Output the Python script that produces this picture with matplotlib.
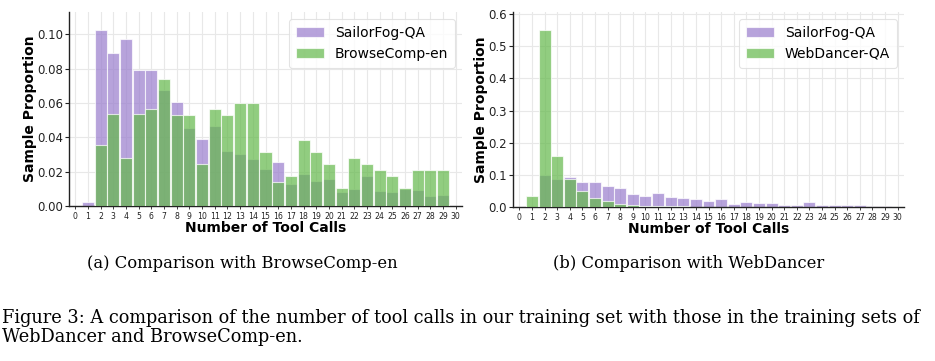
import numpy as np
import matplotlib
matplotlib.use("Agg")
import matplotlib.pyplot as plt

tool_calls = list(range(0, 31))

# Panel (a)
sailorfog_a = [0.0, 0.0023, 0.1027, 0.0890, 0.0975, 0.0795, 0.0791, 0.0678, 0.0603, 0.0453,
               0.0388, 0.0467, 0.0322, 0.0300, 0.0271, 0.0217, 0.0258, 0.0130, 0.0188, 0.0145,
               0.0155, 0.0083, 0.0097, 0.0172, 0.0089, 0.0083, 0.0099, 0.0091, 0.0060, 0.0066, 0.0]
browsecomp = [0.0, 0.0, 0.0353, 0.0533, 0.0281, 0.0533, 0.0566, 0.0742, 0.0531, 0.0529,
              0.0246, 0.0566, 0.0531, 0.0601, 0.0601, 0.0316, 0.0138, 0.0172, 0.0386, 0.0316,
              0.0244, 0.0103, 0.0281, 0.0244, 0.0209, 0.0172, 0.0103, 0.0209, 0.0209, 0.0209, 0.0]

# Panel (b)
sailorfog_b = [0.0, 0.0, 0.1005, 0.0859, 0.0940, 0.0775, 0.0764, 0.0649, 0.0576, 0.0419,
               0.0356, 0.0429, 0.0304, 0.0283, 0.0251, 0.0200, 0.0240, 0.0105, 0.0168, 0.0115,
               0.0136, 0.0063, 0.0073, 0.0147, 0.0063, 0.0052, 0.0063, 0.0063, 0.0031, 0.0031, 0.0]
webdancer = [0.0, 0.0335, 0.5520, 0.1580, 0.0859, 0.0492, 0.0283, 0.0178, 0.0105, 0.0063,
             0.0042, 0.0042, 0.0020, 0.0020, 0.0010, 0.0, 0.0, 0.0, 0.0, 0.0,
             0.0, 0.0, 0.0, 0.0, 0.0, 0.0, 0.0, 0.0, 0.0, 0.0, 0.0]

label_sailor = "SailorFog-QA"
label_bc = "BrowseComp-en"
label_wd = "WebDancer-QA"
caption_a = "(a) Comparison with BrowseComp-en"
caption_b = "(b) Comparison with WebDancer"
fig_caption_1 = "Figure 3: A comparison of the number of tool calls in our training set with those in the training sets of"
fig_caption_2 = "WebDancer and BrowseComp-en."

purple = "#997ccd"
green = "#63b84a"
alpha = 0.7

fig = plt.figure(figsize=(9.35, 3.61), dpi=100)
W, H = 935, 361

def make_ax(l, r, t, b):
    return fig.add_axes([l / W, 1 - b / H, (r - l) / W, (b - t) / H])

ax1 = make_ax(69, 462, 12, 206)
ax2 = make_ax(513, 904, 12, 207)

def style(ax, s, other, lab2, yticks, ylim, yfmt):
    ax.set_axisbelow(True)
    ax.grid(True, color="#e8e8e8", linewidth=0.8)
    ax.bar(tool_calls, s, width=0.95, color=purple, alpha=alpha, edgecolor="white",
           linewidth=0.8, label=label_sailor, zorder=2)
    ax.bar(tool_calls, other, width=0.95, color=green, alpha=alpha, edgecolor="white",
           linewidth=0.8, label=lab2, zorder=3)
    ax.set_xlim(-0.5, 30.5)
    ax.set_ylim(*ylim)
    ax.set_xticks(tool_calls)
    ax.set_xticklabels([str(v) for v in tool_calls], fontsize=5.6)
    ax.set_yticks(yticks)
    ax.set_yticklabels([yfmt.format(v) for v in yticks], fontsize=8.5)
    for sp in ["top", "right"]:
        ax.spines[sp].set_visible(False)
    for sp in ["left", "bottom"]:
        ax.spines[sp].set_color("#222222")
        ax.spines[sp].set_linewidth(1.0)
    ax.tick_params(axis="x", length=2.5, width=0.6, pad=1.5, colors="#222222")
    ax.tick_params(axis="y", length=3, width=0.8, pad=1.5, colors="#222222")
    ax.set_xlabel("Number of Tool Calls", fontsize=10, fontweight="bold", labelpad=0)
    ax.set_ylabel("Sample Proportion", fontsize=10, fontweight="bold", labelpad=0)
    leg = ax.legend(loc="upper right", fontsize=10, frameon=True, fancybox=True,
                    edgecolor="#dddddd", handlelength=2.0, borderpad=0.5)
    leg.get_frame().set_linewidth(0.8)

style(ax1, sailorfog_a, browsecomp, label_bc, [0.0, 0.02, 0.04, 0.06, 0.08, 0.10],
      (0, 0.113), "{:.2f}")
style(ax2, sailorfog_b, webdancer, label_wd, [0.0, 0.1, 0.2, 0.3, 0.4, 0.5, 0.6],
      (0, 0.607), "{:.1f}")

serif = ["DejaVu Serif"]
fig.text(242 / W, 1 - 263 / H, caption_a, ha="center", va="center", fontsize=11.8, family=serif)
fig.text(689 / W, 1 - 263 / H, caption_b, ha="center", va="center", fontsize=11.8, family=serif)
fig.text(2 / W, 1 - 318 / H, fig_caption_1, ha="left", va="center", fontsize=12.8, family=serif)
fig.text(2 / W, 1 - 337 / H, fig_caption_2, ha="left", va="center", fontsize=12.8, family=serif)

fig.savefig("out.png", dpi=100, facecolor="white")
